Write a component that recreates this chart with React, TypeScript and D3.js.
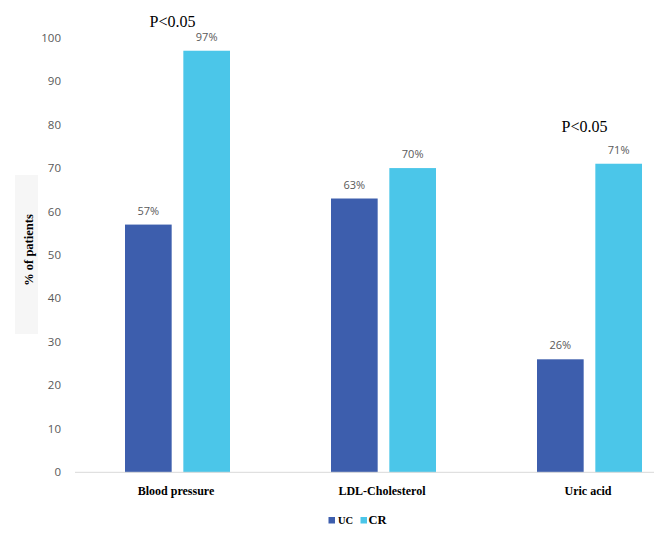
import React from "react";
import * as d3 from "d3";

const categories = ["Blood pressure", "LDL-Cholesterol", "Uric acid"];
const seriesNames = ["UC", "CR"];
const ucValues = [57, 63, 26];
const crValues = [97, 70, 71];
const yTicks = [0, 10, 20, 30, 40, 50, 60, 70, 80, 90, 100];
const annotations = [
  { category: "Blood pressure", value: 102.5, text: "P<0.05" },
  { category: "Uric acid", value: 78.2, text: "P<0.05" },
];

const colors: Record<string, string> = { UC: "#3d5ead", CR: "#4bc6e9" };

export default function App() {
  const W = 659;
  const H = 536;
  const x = d3.scaleBand<string>().domain(categories).range([74.5, 692.5]).padding(0);
  const xs = d3
    .scaleBand<string>()
    .domain(seriesNames)
    .range([50.5, 155.5])
    .paddingInner(0.2)
    .paddingOuter(0);
  const y = d3.scaleLinear().domain([0, 100]).range([472.3, 37.7]);

  const data = categories.map((c, i) => ({ c, UC: ucValues[i], CR: crValues[i] }));
  const numFont = "'Open Sans', 'Liberation Sans', sans-serif";
  const serif = "'Liberation Serif', 'DejaVu Serif', serif";

  return (
    <svg
      width={W}
      height={H}
      style={{ position: "absolute", left: 0, top: 0, background: "#fff" }}
    >
      <rect x={0} y={0} width={W} height={H} fill="#fff" />
      {/* y title box */}
      <rect x={15} y={175} width={23} height={159} fill="#f6f6f6" />
      <text
        transform="translate(32.5,250) rotate(-90)"
        textAnchor="middle"
        fontFamily={serif}
        fontWeight="bold"
        fontSize={12.5}
        fill="#000"
      >
        % of patients
      </text>
      {/* y tick labels */}
      {yTicks.map((t) => (
        <text
          key={t}
          x={61}
          y={y(t)}
          dy="0.35em"
          textAnchor="end"
          fontFamily={numFont}
          fontSize={11.5}
          fill="#595959"
        >
          {t}
        </text>
      ))}
      {/* bars */}
      {data.map((d) =>
        seriesNames.map((s) => {
          const v = (d as any)[s] as number;
          const bx = (x(d.c) as number) + (xs(s) as number);
          return (
            <g key={d.c + s}>
              <rect
                x={bx}
                y={y(v)}
                width={xs.bandwidth()}
                height={y(0) - y(v)}
                fill={colors[s]}
              />
              <text
                x={bx + xs.bandwidth() / 2}
                y={y(v) - 10}
                textAnchor="middle"
                fontFamily={numFont}
                fontSize={11}
                fill="#595959"
              >
                {v}%
              </text>
            </g>
          );
        })
      )}
      {/* axis line */}
      <line x1={75} x2={654} y1={y(0)} y2={y(0)} stroke="#d9d9d9" strokeWidth={1} />
      {/* category labels */}
      {categories.map((c) => (
        <text
          key={c}
          x={(x(c) as number) + x.bandwidth() / 2 - 1.5}
          y={494.5}
          textAnchor="middle"
          fontFamily={serif}
          fontWeight="bold"
          fontSize={12}
          fill="#000"
        >
          {c}
        </text>
      ))}
      {/* annotations */}
      {annotations.map((a, i) => (
        <text
          key={i}
          x={(x(a.category) as number) + x.bandwidth() / 2 - 5}
          y={y(a.value)}
          textAnchor="middle"
          fontFamily={serif}
          fontSize={16}
          fill="#000"
        >
          {a.text}
        </text>
      ))}
      {/* legend */}
      <rect x={328.5} y={517} width={6.5} height={6.5} fill={colors.UC} />
      <text x={338} y={523.5} fontFamily={serif} fontWeight="bold" fontSize={10.5} fill="#000">
        UC
      </text>
      <rect x={360.5} y={517} width={6.5} height={6.5} fill={colors.CR} />
      <text x={368.5} y={523.5} fontFamily={serif} fontWeight="bold" fontSize={12.5} fill="#000">
        CR
      </text>
    </svg>
  );
}
